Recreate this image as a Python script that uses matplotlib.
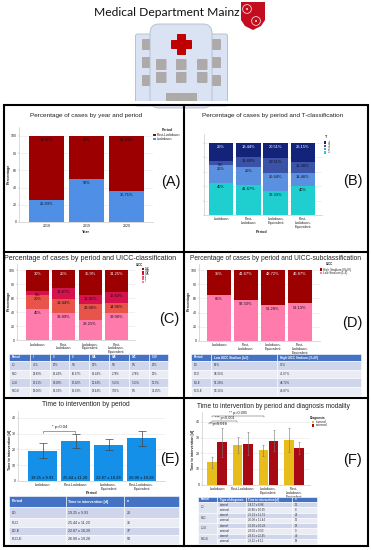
import matplotlib
matplotlib.use("Agg")
import matplotlib.pyplot as plt
import numpy as np
from matplotlib.patches import Rectangle, FancyBboxPatch, Polygon, Circle

plt.rcParams["font.family"] = ["Liberation Sans", "DejaVu Sans"]

W, H = 371, 550

# panel A
years = ["2018", "2019", "2020"]
a_lockdown = [25.93, 50, 35.71]
a_post = [74.07, 50, 64.29]
# panel B
periods = ["Lockdown", "Post-\nLockdown", "Lockdown-\nEquivalent", "Post-\nLockdown-\nEquivalent"]
b_t1 = [45, 41.67, 33.33, 40]
b_t2 = [25, 25, 25.64, 18.46]
b_t3 = [5, 13.89, 20.51, 15.38]
b_t4 = [25, 19.44, 20.51, 26.15]
# panel C
c_1 = [45, 38.89, 28.21, 39.06]
c_2 = [20, 19.44, 23.08, 14.06]
c_3 = [5, 16.67, 12.82, 15.63]
c_4 = [30, 25, 35.9, 31.25]
c_head = ["Period", "I", "II", "III", "IVA", "IVB", "IVC", "III-IV"]
c_rows = [["LD", "45%", "20%", "5%", "30%", "0%", "0%", "30%"],
          ["PLD", "38.89%", "19.44%", "16.67%", "19.44%", "2.78%", "2.78%", "25%"],
          ["LD-E", "28.21%", "23.08%", "12.82%", "25.64%", "5.13%", "5.13%", "35.9%"],
          ["PLD-E", "39.06%", "14.06%", "15.63%", "23.44%", "7.81%", "0%", "31.25%"]]
# panel D
d_low = [65, 58.33, 51.28, 53.13]
d_high = [35, 41.67, 48.72, 46.87]
d_head = ["Period", "Low UICC Stadium (I+II)", "High UICC Stadium (III+IV)"]
d_rows = [["LD", "65%", "35%"], ["PLD", "58.33%", "41.67%"],
          ["LD-E", "51.28%", "48.72%"], ["PLD-E", "53.13%", "46.87%"]]
# panel E
e_labels = ["Lockdown", "Post-Lockdown", "Lockdown-\nEquivalent", "Post-Lockdown-\nEquivalent"]
e_mean = [19.25, 25.44, 22.87, 26.90]
e_sd = [9.93, 11.20, 10.29, 19.28]
e_err = [4.7, 4.3, 3.5, 5.0]
e_n = [20, 36, 37, 58]
e_codes = ["LD", "PLD", "LD-E", "PLD-E"]
# panel F
f_labels = ["Lockdown", "Post-Lockdown", "Lockdown-\nEquivalent", "Post-\nLockdown-\nEquivalent"]
f_int = [14.17, 25.13, 21.90, 28.31]
f_ext = [26.88, 26.08, 28.00, 23.22]
f_int_sd = [6.88, 11.51, 10.29, 22.45]
f_ext_sd = [10.95, 11.44, 9.03, 8.11]
f_int_err = [3.5, 5.0, 3.4, 7.6]
f_ext_err = [9.5, 7.3, 6.8, 3.8]
f_int_n = [12, 24, 28, 40]
f_ext_n = [8, 12, 9, 18]

BLUE = "#4f8fe6"
DARKRED = "#9c0000"
PINK = "#ff7bac"
TXT = "#222222"

fig = plt.figure(figsize=(W / 100, H / 100), dpi=100)
page = fig.add_axes([0, 0, 1, 1], zorder=5)
page.set_xlim(0, W)
page.set_ylim(H, 0)
page.axis("off")
page.patch.set_alpha(0)


def make_ax(left, right, top, bottom, first, step, ymax_px_scale, ylabels=True):
    ax = fig.add_axes([left / W, 1 - bottom / H, (right - left) / W, (bottom - top) / H])
    ax.set_xlim((left - first) / step, (right - first) / step)
    ax.set_ylim(0, (bottom - top) / ymax_px_scale)
    for s in ["top", "right"]:
        ax.spines[s].set_visible(False)
    for s in ["left", "bottom"]:
        ax.spines[s].set_color("#cccccc")
        ax.spines[s].set_linewidth(0.5)
    ax.grid(axis="y", color="#ececec", lw=0.5)
    ax.set_axisbelow(True)
    ax.tick_params(length=1, width=0.3, color="#999999", labelsize=2.5, pad=0.8, labelcolor=TXT)
    if not ylabels:
        ax.set_yticklabels([])
    return ax


def stacked(ax, xlabels, series, colors, width, drop):
    x = np.arange(len(xlabels))
    base = np.zeros(len(xlabels))
    for vals, col in zip(series, colors):
        ax.bar(x, vals, width, bottom=base, color=col)
        base = base + np.array(vals)
        for xi, top, v in zip(x, base, vals):
            ax.annotate(f"{v:g}%", (xi, top), xytext=(0, -drop), textcoords="offset points",
                        ha="center", va="center", fontsize=2.9, color="#111111")
    ax.set_xticks(x)
    ax.set_xticklabels(xlabels, linespacing=0.95)


def table(xs, ys, head, rows, size=2.3):
    for j, h in enumerate(head):
        page.add_patch(Rectangle((xs[j], ys[0]), xs[j + 1] - xs[j], ys[1] - ys[0],
                                 fc="#4472c4", ec="white", lw=0.4))
        page.text(xs[j] + 2.5, (ys[0] + ys[1]) / 2, h, color="white", fontsize=size,
                  fontweight="bold", va="center")
    for i, row in enumerate(rows):
        for j, cell in enumerate(row):
            page.add_patch(Rectangle((xs[j], ys[i + 1]), xs[j + 1] - xs[j], ys[i + 2] - ys[i + 1],
                                     fc="#cfd5ea" if i % 2 == 0 else "#e9ebf5", ec="white", lw=0.4))
            page.text(xs[j] + 2.5, (ys[i + 1] + ys[i + 2]) / 2, cell, color="#333333",
                      fontsize=size, va="center")


def legend(x, y, dy, items, title, tx, ty, size=2.5, sq=2.6):
    page.text(tx, ty, title, ha="center", va="center", fontsize=size, fontweight="bold", color=TXT)
    for i, (lab, col) in enumerate(items):
        yy = y + i * dy
        page.add_patch(Rectangle((x, yy - sq / 2), sq, sq, fc=col, ec="none"))
        page.text(x + sq + 1, yy, lab, va="center", fontsize=size, color=TXT)


# header with building icon
page.text(167, 12, "Medical Department Mainz", family=["Lato", "DejaVu Sans"], fontsize=8.7,
          ha="center", va="center", color="#111111")
page.add_patch(Polygon([(241, 2), (265, 2), (265, 20), (261, 26), (253, 30), (245, 26), (241, 20)],
                       fc="#c30d1e", ec="none"))
for cx, cy in [(247, 9), (256, 21)]:
    page.add_patch(Circle((cx, cy), 4.4, fc="none", ec="#f4d6d6", lw=0.6))
    page.add_patch(Circle((cx, cy), 1, fc="#f4d6d6", ec="none"))
page.add_patch(FancyBboxPatch((135.5, 34), 92, 72, boxstyle="round,pad=0,rounding_size=2",
                              fc="#dae3f3", ec="#b4b9c4", lw=0.6))
for wx in [142, 212]:
    for wy in [39, 57, 75]:
        page.add_patch(FancyBboxPatch((wx, wy), 9, 11, boxstyle="round,pad=0,rounding_size=1",
                                      fc="#aeaaaa", ec="none"))
page.add_patch(FancyBboxPatch((150, 24), 62, 84, boxstyle="round,pad=0,rounding_size=9",
                              fc="#dae3f3", ec="#b4b9c4", lw=0.6))
for wx in [156, 176, 197]:
    for wy in [59, 72]:
        page.add_patch(FancyBboxPatch((wx, wy), 10.5, 11, boxstyle="round,pad=0,rounding_size=1",
                                      fc="#aeaaaa", ec="none"))
page.add_patch(Rectangle((166, 93), 31, 9, fc="#aeaaaa", ec="none"))
page.add_patch(FancyBboxPatch((177, 34), 9, 21, boxstyle="round,pad=0,rounding_size=0.8", fc="#c00000", ec="none"))
page.add_patch(FancyBboxPatch((171, 40), 21, 9, boxstyle="round,pad=0,rounding_size=0.8", fc="#c00000", ec="none"))
page.add_patch(Rectangle((0, 101), W, 3, fc="white", ec="none", zorder=3))

# panel frames
page.add_patch(Rectangle((3.5, 105), 364.5, 441, fc="none", ec="black", lw=1.5, zorder=6))
page.plot([184, 184], [105, 546], color="black", lw=1.5, zorder=6)
page.plot([3.5, 368], [252, 252], color="black", lw=1.5, zorder=6)
page.plot([3.5, 368], [398, 398], color="black", lw=1.5, zorder=6)

# A
ax = make_ax(19, 153, 127, 222, 46.5, 40, 0.86)
stacked(ax, years, [a_lockdown, a_post], [BLUE, DARKRED], 0.88, 3)
ax.set_yticks([0, 20, 40, 60, 80, 100])
page.text(86, 116, "Percentage of cases by year and period", ha="center", va="center", fontsize=4.55, color=TXT)
page.text(9, 174, "Percentage", rotation=90, ha="center", va="center", fontsize=2.7, fontweight="bold", color=TXT)
page.text(86, 232, "Year", ha="center", va="center", fontsize=2.7, fontweight="bold", color=TXT)
legend(153, 135, 4, [("Post-Lockdown", DARKRED), ("Lockdown", BLUE)], "Period", 167, 130)
page.text(171, 182, "(A)", ha="center", va="center", fontsize=10.5, color="#111111")

# B
ax = make_ax(204, 322, 134, 215, 221, 27.3, 0.72, ylabels=False)
stacked(ax, periods, [b_t1, b_t2, b_t3, b_t4], ["#1fcfcf", "#5b8fe0", "#3a52a8", "#14237a"], 0.9, 3)
ax.set_yticks([0, 20, 40, 60, 80, 100])
ax.set_yticklabels([])
for t in ax.texts[-4:]:
    t.set_color("white")
page.text(272.5, 116, "Percentage of cases by period and T-classification", ha="center", va="center", fontsize=4.6, color=TXT)
page.text(262, 232, "Period", ha="center", va="center", fontsize=2.7, fontweight="bold", color=TXT)
legend(324, 142.5, 3.3, [("4", "#14237a"), ("3", "#3a52a8"), ("2", "#5b8fe0"), ("1", "#1fcfcf")], "T", 326, 137, sq=2.4)
page.text(353, 181, "(B)", ha="center", va="center", fontsize=10.5, color="#111111")

# C
ax = make_ax(17, 135, 264, 340, 37.5, 26.3, 0.70)
stacked(ax, periods, [c_1, c_2, c_3, c_4], [PINK, "#e8534a", "#d6114e", DARKRED], 0.88, 3)
ax.set_yticks([0, 20, 40, 60, 80, 100])
for t in ax.texts[-4:]:
    t.set_color("white")
page.text(90, 258, "Percentage of cases by period and UICC-classification", ha="center", va="center", fontsize=5.1, color=TXT)
page.text(9, 301, "Percentage", rotation=90, ha="center", va="center", fontsize=2.7, fontweight="bold", color=TXT)
legend(142, 269, 2.5, [("IVC", DARKRED), ("IVB", "#c40a2a"), ("IVA", "#d6114e"), ("III", "#e8534a"), ("II", "#f0637a"), ("I", PINK)],
       "UICC", 140, 265, size=2.2, sq=2)
page.text(169, 319, "(C)", ha="center", va="center", fontsize=10.5, color="#111111")
table([9, 30, 50, 69, 89, 109, 129, 149, 168], [354, 361, 370, 378, 387, 396], c_head, c_rows, size=2.0)

# D
ax = make_ax(199, 320, 264, 341, 219, 27, 0.71)
stacked(ax, periods, [d_low, d_high], [PINK, DARKRED], 0.89, 3.2)
ax.set_yticks([0, 20, 40, 60, 80, 100])
for t in ax.texts[-4:]:
    t.set_color("white")
page.text(276, 258, "Percentage of cases by period and UICC-subclassification", ha="center", va="center", fontsize=4.75, color=TXT)
page.text(189, 301, "Percentage", rotation=90, ha="center", va="center", fontsize=2.7, fontweight="bold", color=TXT)
legend(320, 269.5, 3.8, [("High Stadium (III+IV)", DARKRED), ("Low Stadium (I+II)", PINK)], "UICC", 329, 264, size=2.2, sq=2.2)
page.text(352, 323, "(D)", ha="center", va="center", fontsize=10.5, color="#111111")
table([191, 211, 277, 361], [354, 361, 370, 378, 387, 396], d_head, d_rows, size=2.2)

# E
ax = make_ax(18, 165, 411, 481, 42.5, 33, 1.58)
xe = np.arange(4)
ax.bar(xe, e_mean, 0.89, color="#1490e8")
ax.errorbar(xe, e_mean, yerr=e_err, fmt="none", ecolor="#444444", elinewidth=0.5, capsize=2.9, capthick=0.5)
for xi, m, s in zip(xe, e_mean, e_sd):
    ax.annotate(f"{m:.2f} ± {s:.2f}", (xi, 0), xytext=(0, 2), textcoords="offset points",
                ha="center", va="center", fontsize=2.9, color="#111111")
ax.set_xticks(xe)
ax.set_xticklabels(e_labels, linespacing=0.95)
ax.set_yticks([0, 10, 20, 30, 40])
page.text(86, 405, "Time to intervention by period", ha="center", va="center", fontsize=4.75, color=TXT)
page.text(10, 450, "Time to intervention [d]", rotation=90, ha="center", va="center", fontsize=2.6, fontweight="bold", color=TXT)
page.text(92, 493, "Period", ha="center", va="center", fontsize=2.7, fontweight="bold", color=TXT)
page.plot([42.7, 42.7, 75, 75], [432.5, 430.7, 430.7, 432.5], color="#555555", lw=0.4)
page.text(60, 427, "* p=0.04", ha="center", va="center", fontsize=3, color=TXT)
page.text(170, 459, "(E)", ha="center", va="center", fontsize=10.5, color="#111111")
e_rows = [[c, f"{m:.2f} ± {s:.2f}", str(n)] for c, m, s, n in zip(e_codes, e_mean, e_sd, e_n)]
table([9, 66, 124, 179], [496, 507, 518, 527, 535, 544], ["Period", "Time to intervention [d]", "n"], e_rows, size=2.6)

# F
ax = make_ax(202, 310, 412, 484.7, 217, 25.7, 1.57)
xf = np.arange(4)
ax.bar(xf - 0.2, f_int, 0.37, color="#e8bc1a", label="internal")
ax.bar(xf + 0.2, f_ext, 0.37, color="#a80a14", label="external")
ax.errorbar(xf - 0.2, f_int, yerr=f_int_err, fmt="none", ecolor="#777777", elinewidth=0.4, capsize=0.8, capthick=0.4)
ax.errorbar(xf + 0.2, f_ext, yerr=f_ext_err, fmt="none", ecolor="#777777", elinewidth=0.4, capsize=0.8, capthick=0.4)
ax.set_xticks(xf)
ax.set_xticklabels(f_labels, linespacing=0.95)
ax.set_yticks([0, 10, 20, 30, 40])
page.text(273.5, 406, "Time to intervention by period and diagnosis modality", ha="center", va="center", fontsize=4.7, color=TXT)
page.text(193, 450, "Time to intervention [d]", rotation=90, ha="center", va="center", fontsize=2.6, fontweight="bold", color=TXT)
for x0, x1, yb, label, tx, ty in [(212, 264, 415.7, "** p=0.005", 238, 412.7),
                                  (212, 237, 420.7, "*** p<0.001", 225, 418),
                                  (209, 226, 422.7, "* p=0.013", 218.5, 424.5)]:
    page.plot([x0, x0, x1, x1], [yb + 1.2, yb, yb, yb + 1.2], color="#555555", lw=0.35)
    page.text(tx, ty, label, ha="center", va="center", fontsize=2.8, color=TXT)
legend(312, 422, 3.5, [("internal", "#e8bc1a"), ("external", "#a80a14")], "Diagnosis", 318, 417.7, size=2.3, sq=2.4)
page.text(353, 460, "(F)", ha="center", va="center", fontsize=10.5, color="#111111")
f_rows = []
for mi, si, ni, me, se, ne in zip(f_int, f_int_sd, f_int_n, f_ext, f_ext_sd, f_ext_n):
    f_rows.append(["", "internal", f"{mi:.2f} ± {si:.2f}", str(ni)])
    f_rows.append(["", "external", f"{me:.2f} ± {se:.2f}", str(ne)])
f_ys = [497, 502] + [502 + 5.25 * i for i in range(1, 9)]
table([198, 217, 246, 292, 317], f_ys,
      ["Period", "Type of diagnosis", "Time to intervention [d]", "n"], f_rows, size=2.0)
# period cells span both rows of a group
for i, c in enumerate(e_codes):
    page.add_patch(Rectangle((198, f_ys[1 + 2 * i]), 19, 10.5, fc="#dfe3f0", ec="white", lw=0.4))
    page.text(200.5, f_ys[2 + 2 * i], c, color="#333333", fontsize=2.0, va="center")

fig.savefig("out.png", dpi=100)
